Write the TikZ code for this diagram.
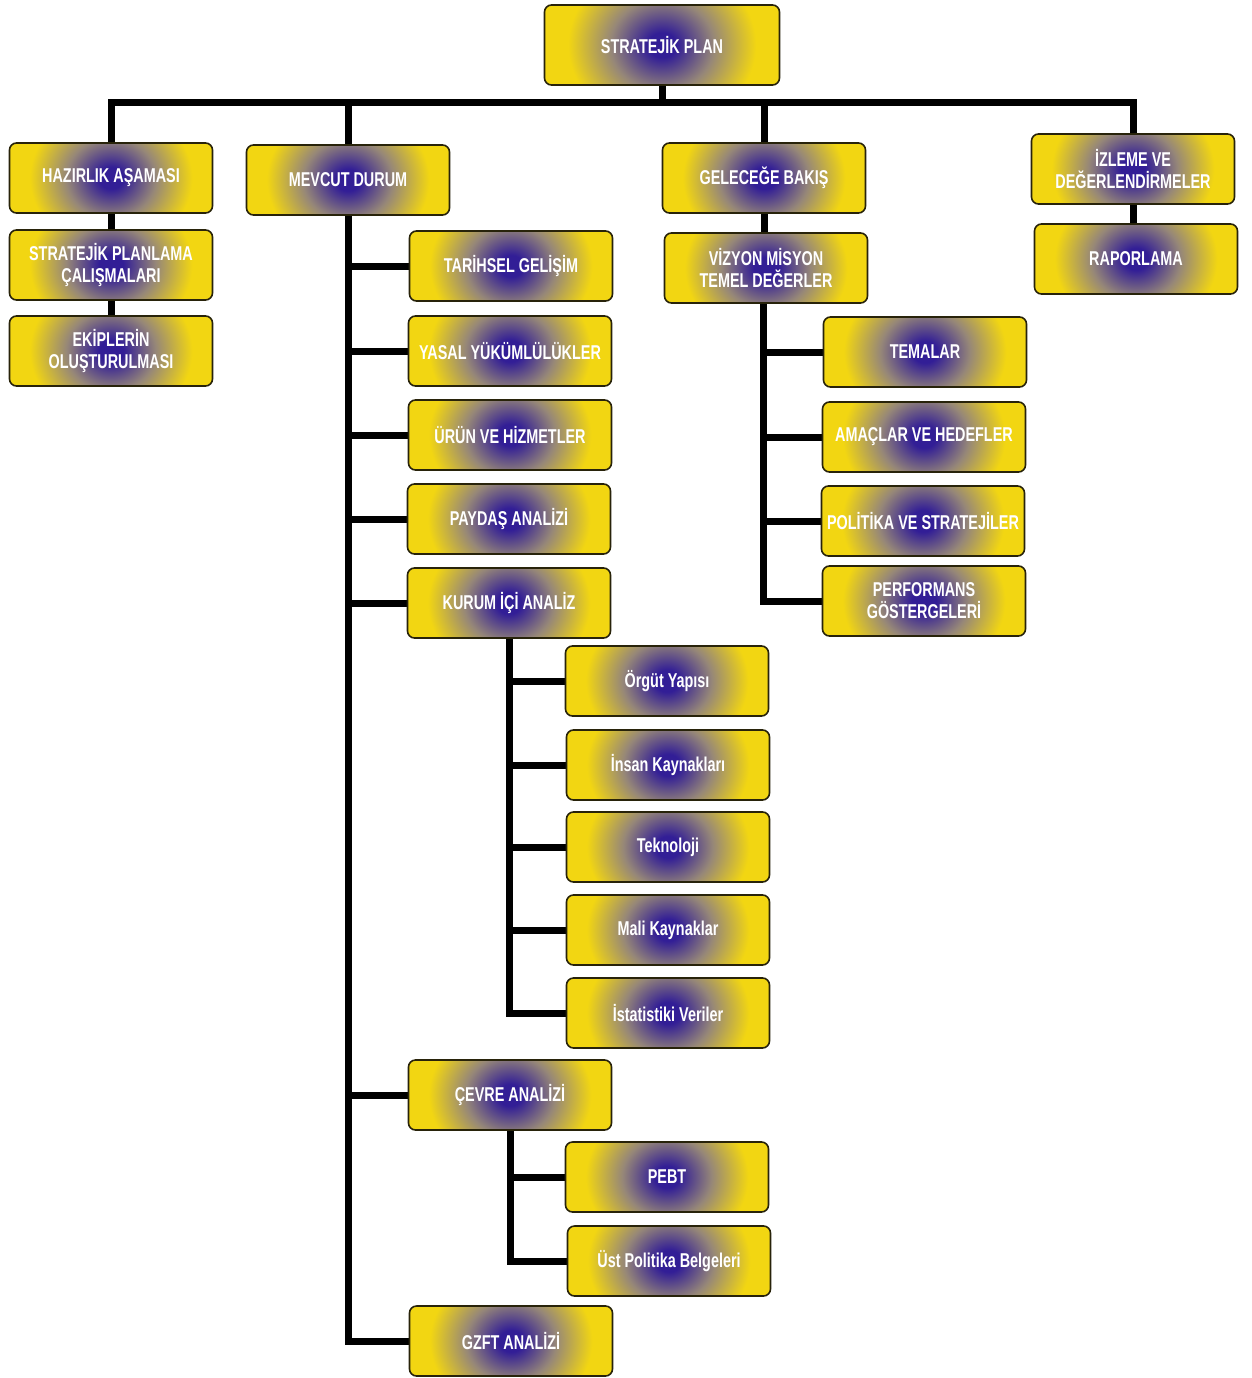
\documentclass[tikz,border=0pt]{standalone}
\usepackage{fontspec}
\newfontfamily\boxfam[FakeStretch=0.72]{Liberation Sans}
\usetikzlibrary{calc,backgrounds}
\definecolor{cyel}{RGB}{242,214,18}
\definecolor{cblue}{RGB}{50,30,150}
\definecolor{cmid}{RGB}{150,135,120}
\definecolor{cedge}{RGB}{40,35,10}
\pgfdeclareradialshading{boxshade}{\pgfpoint{0bp}{0bp}}{color(0bp)=(cblue); color(3bp)=(cblue); color(11bp)=(cmid); color(20bp)=(cyel); color(50bp)=(cyel)}
\tikzset{
  box/.style={draw=cedge, line width=1.6pt, rounded corners=7pt, fill=cyel,
    minimum width=203pt, minimum height=70pt, inner sep=2pt, align=center,
    text=white, font=\boxfam\bfseries\fontsize{20}{22}\selectfont,
    path picture={\path let \p1=($(path picture bounding box.north east)-(path picture bounding box.south west)$) in
      \pgfextra{\pgfmathsetmacro\rx{0.5*abs(\x1)}\pgfmathsetmacro\ry{1.3*abs(\y1)}}
      [shading=boxshade] (path picture bounding box.center) ellipse [x radius=\rx pt, y radius=\ry pt];}},
  conn/.style={draw=black, line width=7pt, line join=miter}
}
\begin{document}
\begin{tikzpicture}[x=1pt,y=-1pt]
\useasboundingbox (0,0) rectangle (1251,1378);
\node[box, minimum width=235pt, minimum height=80pt] (sp) at (662,45) {STRATEJİK PLAN};
\node[box] (hz) at (111,178) {HAZIRLIK AŞAMASI};
\node[box] (spc) at (111,265) {STRATEJİK PLANLAMA\\ÇALIŞMALARI};
\node[box] (ek) at (111,351) {EKİPLERİN\\OLUŞTURULMASI};
\node[box] (md) at (348,180) {MEVCUT DURUM};
\node[box] (gb) at (764,178) {GELECEĞE BAKIŞ};
\node[box] (iz) at (1133,169) {İZLEME VE\\DEĞERLENDİRMELER};
\node[box] (rp) at (1136,259) {RAPORLAMA};
\node[box] (vz) at (766,268) {VİZYON MİSYON\\TEMEL DEĞERLER};
\node[box] (tg) at (511,266) {TARİHSEL GELİŞİM};
\node[box] (yy) at (510,351) {YASAL YÜKÜMLÜLÜKLER};
\node[box] (uh) at (510,435) {ÜRÜN VE HİZMETLER};
\node[box] (pa) at (509,519) {PAYDAŞ ANALİZİ};
\node[box] (ki) at (509,603) {KURUM İÇİ ANALİZ};
\node[box] (ca) at (510,1095) {ÇEVRE ANALİZİ};
\node[box] (gz) at (511,1341) {GZFT ANALİZİ};
\node[box] (oy) at (667,681) {Örgüt Yapısı};
\node[box] (ik) at (668,765) {İnsan Kaynakları};
\node[box] (tk) at (668,847) {Teknoloji};
\node[box] (mk) at (668,930) {Mali Kaynaklar};
\node[box] (iv) at (668,1013) {İstatistiki Veriler};
\node[box] (pb) at (667,1177) {PEBT};
\node[box] (up) at (669,1261) {Üst Politika Belgeleri};
\node[box] (tm) at (925,352) {TEMALAR};
\node[box] (ah) at (924,437) {AMAÇLAR VE HEDEFLER};
\node[box] (ps) at (923,521) {POLİTİKA VE STRATEJİLER};
\node[box] (pg) at (924,601) {PERFORMANS\\GÖSTERGELERİ};
\begin{pgfonlayer}{background}
\coordinate (bus) at (662,103);
\draw[conn] (sp.south) -- (bus);
\draw[conn] (hz.north) -- (hz.north |- bus) -- (iz.north |- bus) -- (iz.north);
\draw[conn] (md.north |- bus) -- (md.north);
\draw[conn] (gb.north |- bus) -- (gb.north);
\draw[conn] (hz.south) -- (spc.north);
\draw[conn] (spc.south) -- (ek.north);
\draw[conn] (gb.south) -- (gb.south |- vz.north);
\draw[conn] (iz.south) -- (iz.south |- rp.north);
\draw[conn] (md.south) |- (gz.west);
\foreach \n in {tg,yy,uh,pa,ki,ca} \draw[conn] (md.south |- \n.west) -- (\n.west);
\draw[conn] (ki.south) |- (iv.west);
\foreach \n in {oy,ik,tk,mk} \draw[conn] (ki.south |- \n.west) -- (\n.west);
\draw[conn] (ca.south) |- (up.west);
\draw[conn] (ca.south |- pb.west) -- (pb.west);
\draw[conn] ([xshift=-3]vz.south) |- (pg.west);
\foreach \n in {tm,ah,ps} \draw[conn] ([xshift=-3]vz.south |- \n.west) -- (\n.west);
\end{pgfonlayer}
\end{tikzpicture}
\end{document}
